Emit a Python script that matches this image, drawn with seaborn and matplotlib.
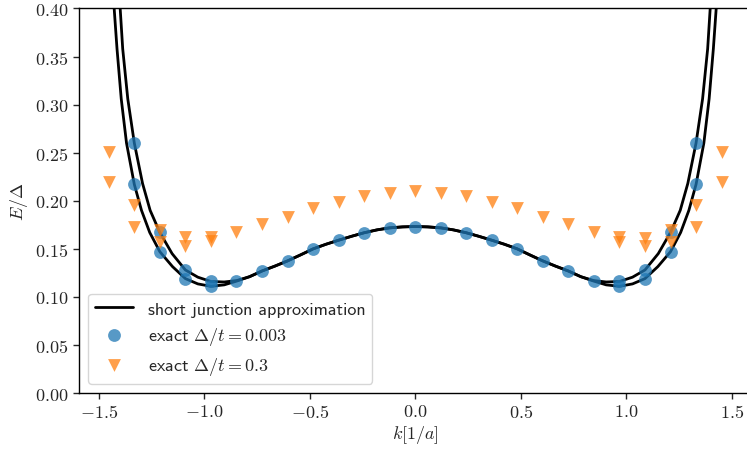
import numpy as np
import matplotlib
matplotlib.use("Agg")
import matplotlib.pyplot as plt
import seaborn as sns
from matplotlib.ticker import FuncFormatter

# short junction approximation, two branches
k_inner = [-1.403, -1.398, -1.386, -1.362, -1.331, -1.292, -1.256, -1.210, -1.152, -1.089,
           -1.030, -0.968, -0.905, -0.845, -0.785, -0.725, -0.665, -0.604, -0.543, -0.483,
           -0.422, -0.362, -0.302, -0.242, -0.181, -0.121, -0.060, 0.000,
           0.060, 0.121, 0.181, 0.242, 0.302, 0.362, 0.422, 0.483, 0.543, 0.604,
           0.665, 0.725, 0.785, 0.845, 0.905, 0.968, 1.030, 1.089, 1.152, 1.210,
           1.256, 1.292, 1.331, 1.362, 1.386, 1.398, 1.403]
E_inner = [0.420, 0.400, 0.358, 0.306, 0.260, 0.218, 0.190, 0.167, 0.145, 0.128,
           0.1205, 0.116, 0.1155, 0.117, 0.121, 0.127, 0.132, 0.1375, 0.1437, 0.150,
           0.1548, 0.159, 0.163, 0.1667, 0.1697, 0.1718, 0.1728, 0.1732,
           0.1728, 0.1718, 0.1697, 0.1667, 0.163, 0.159, 0.1548, 0.150, 0.1437, 0.1375,
           0.132, 0.127, 0.121, 0.117, 0.1155, 0.116, 0.1205, 0.128, 0.145, 0.167,
           0.190, 0.218, 0.260, 0.306, 0.358, 0.400, 0.420]

k_outer = [-1.431, -1.4265, -1.413, -1.393, -1.368, -1.331, -1.297, -1.258, -1.210, -1.150,
           -1.089, -1.030, -0.968, -0.905, -0.845, -0.785, -0.725, -0.665, -0.604, -0.543,
           -0.483, -0.422, -0.362, -0.302, -0.242, -0.181, -0.121, -0.060, 0.000,
           0.060, 0.121, 0.181, 0.242, 0.302, 0.362, 0.422, 0.483, 0.543, 0.604,
           0.665, 0.725, 0.785, 0.845, 0.905, 0.968, 1.030, 1.089, 1.150, 1.210,
           1.258, 1.297, 1.331, 1.368, 1.393, 1.413, 1.4265, 1.431]
E_outer = [0.420, 0.400, 0.358, 0.306, 0.260, 0.217, 0.190, 0.167, 0.147, 0.1315,
           0.119, 0.1135, 0.111, 0.1125, 0.1165, 0.121, 0.127, 0.132, 0.1375, 0.1437,
           0.150, 0.1548, 0.159, 0.163, 0.1667, 0.1697, 0.1718, 0.1728, 0.1732,
           0.1728, 0.1718, 0.1697, 0.1667, 0.163, 0.159, 0.1548, 0.150, 0.1437, 0.1375,
           0.132, 0.127, 0.121, 0.1165, 0.1125, 0.111, 0.1135, 0.119, 0.1315, 0.147,
           0.167, 0.190, 0.217, 0.260, 0.306, 0.358, 0.400, 0.420]

# exact results, Delta/t = 0.003
k_blue = [-1.331, -1.331, -1.210, -1.210, -1.089, -1.089, -0.968, -0.968, -0.847, -0.726,
          -0.605, -0.484, -0.363, -0.242, -0.121, 0.0, 0.121, 0.242, 0.363, 0.484,
          0.605, 0.726, 0.847, 0.968, 0.968, 1.089, 1.089, 1.210, 1.210, 1.331, 1.331]
E_blue = [0.260, 0.217, 0.167, 0.147, 0.128, 0.119, 0.116, 0.111, 0.117, 0.127,
          0.1375, 0.150, 0.159, 0.1667, 0.172, 0.173, 0.172, 0.1667, 0.159, 0.150,
          0.1375, 0.127, 0.117, 0.116, 0.111, 0.128, 0.119, 0.167, 0.147, 0.260, 0.217]

# exact results, Delta/t = 0.3
k_orange = [-1.452, -1.452, -1.331, -1.331, -1.210, -1.210, -1.089, -1.089, -0.968, -0.968,
            -0.847, -0.726, -0.605, -0.484, -0.363, -0.242, -0.121, 0.0, 0.121, 0.242,
            0.363, 0.484, 0.605, 0.726, 0.847, 0.968, 0.968, 1.089, 1.089, 1.210,
            1.210, 1.331, 1.331, 1.452, 1.452]
E_orange = [0.251, 0.220, 0.196, 0.173, 0.170, 0.157, 0.1625, 0.153, 0.1625, 0.158,
            0.168, 0.176, 0.183, 0.192, 0.199, 0.205, 0.208, 0.210, 0.208, 0.205,
            0.199, 0.192, 0.183, 0.176, 0.168, 0.1625, 0.157, 0.161, 0.153, 0.170,
            0.157, 0.196, 0.173, 0.251, 0.220]

sns.set_style("ticks")
plt.rcParams["font.family"] = ["cmss10", "DejaVu Sans"]
plt.rcParams["mathtext.fontset"] = "cm"
plt.rcParams["axes.unicode_minus"] = True

fig = plt.figure(figsize=(7.47, 4.52), dpi=100)
ax = fig.add_axes([0.1058, 0.1283, 0.9, 0.8507])

sns.lineplot(x=k_inner, y=E_inner, sort=False, estimator=None, color="black", lw=2,
             ax=ax, label="short junction approximation")
sns.lineplot(x=k_outer, y=E_outer, sort=False, estimator=None, color="black", lw=2, ax=ax)
sns.scatterplot(x=k_blue, y=E_blue, marker="o", s=85, color="tab:blue", alpha=0.75,
                linewidth=0, ax=ax, label=r"exact $\Delta/t = 0.003$", zorder=3)
sns.scatterplot(x=k_orange, y=E_orange, marker="v", s=85, color="tab:orange", alpha=0.75,
                linewidth=0, ax=ax, label=r"exact $\Delta/t = 0.3$", zorder=3)

ax.set_xlim(-1.593, 1.593)
ax.set_ylim(0, 0.4)
ax.set_xticks([-1.5, -1.0, -0.5, 0.0, 0.5, 1.0, 1.5])
ax.set_yticks(np.arange(0, 0.401, 0.05))
ax.xaxis.set_major_formatter(FuncFormatter(lambda v, p: f"${v:.1f}$"))
ax.yaxis.set_major_formatter(FuncFormatter(lambda v, p: f"${v:.2f}$"))
ax.tick_params(labelsize=13, length=4, width=1)
for s in ax.spines.values():
    s.set_linewidth(1)
    s.set_color("black")

ax.set_xlabel(r"$k[1/a]$", fontsize=13, labelpad=2)
ax.set_ylabel(r"$E/\Delta$", fontsize=13)

ax.legend(loc="lower left", prop={"family": ["cmss10", "DejaVu Sans"], "size": 13},
          frameon=True, framealpha=0.8, borderpad=0.4, labelspacing=0.45,
          handlelength=2.1)

fig.savefig("out.png", dpi=100)
